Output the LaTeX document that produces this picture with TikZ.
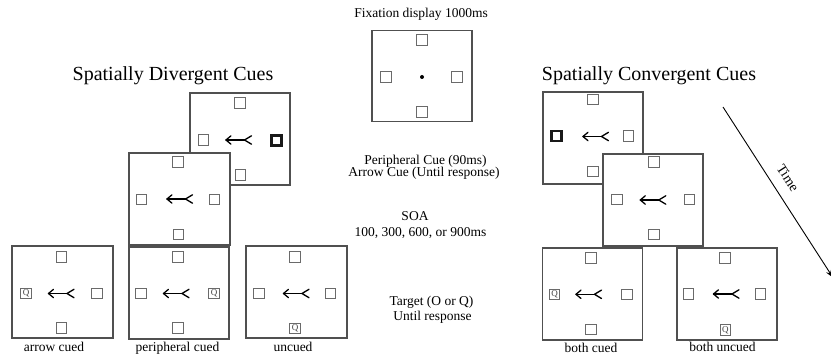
\documentclass[tikz,border=0pt]{standalone}
\usepackage{fontspec}
\setmainfont{Liberation Serif}
\usetikzlibrary{arrows.meta}
\definecolor{framec}{HTML}{505050}
\definecolor{sqc}{HTML}{6A6A6A}
\tikzset{
  panel/.style={draw=framec, line width=1.2pt, fill=white, minimum width=100pt, minimum height=92pt, inner sep=0pt, outer sep=0pt},
  sq/.style={draw=sqc, line width=0.9pt, fill=white, minimum size=10.5pt, inner sep=0pt},
  thicksq/.style={draw=black!90, line width=2.5pt, minimum size=10pt, inner sep=0pt},
  qsq/.style={sq, font=\fontsize{9}{9}\selectfont, text=black!75},
  fixdot/.style={circle, fill=black, minimum size=4pt, inner sep=0pt},
  txt/.style={font=\fontsize{13.5}{14}\selectfont, inner sep=0pt, anchor=base},
  ttl/.style={font=\fontsize{20}{22}\selectfont, inner sep=0pt, anchor=base},
  arrowstroke/.style={line width=1.3pt, line cap=round, line join=round},
  cuearrow/.pic={
    \draw[arrowstroke] (-13,0) -- (5.5,0);
    \draw[arrowstroke] (-8,-4.2) .. controls (-9.8,-1.4) .. (-13,0) .. controls (-9.8,1.4) .. (-8,4.2);
    \draw[arrowstroke] (12.5,-4.2) .. controls (9,-1.2) .. (5.5,0) .. controls (9,1.2) .. (12.5,4.2);
  }
}
\begin{document}
\begin{tikzpicture}[x=1pt,y=-1pt]
\useasboundingbox (0,0) rectangle (831,358);
\clip (0,0) rectangle (831,358);

% ---------- fixation display ----------
\node[txt] (fixtxt) at (421,17.5) {Fixation display 1000ms};
\node[panel, minimum width=100pt, minimum height=91pt] (F) at (422,76.4) {};
\node[sq] (Ft) at (422,40) {};
\node[sq] (Fl) at (386,77) {};
\node[sq] (Fr) at (457,77) {};
\node[sq] (Fb) at (422,112) {};
\node[fixdot] (Fd) at (422,77) {};

% ---------- centre texts ----------
\node[txt] (pc1) at (425.5,164.5) {Peripheral Cue (90ms)};
\node[txt] (pc2) at (424,177) {Arrow Cue (Until response)};
\node[txt] (soa1) at (415,221) {SOA};
\node[txt] (soa2) at (420.5,236.5) {100, 300, 600, or 900ms};
\node[txt] (tg1) at (431.5,305.5) {Target (O or Q)};
\node[txt] (tg2) at (432.5,320.5) {Until response};

% ---------- divergent ----------
\node[ttl] (dtitle) at (173,81) {Spatially Divergent Cues};

\node[panel] (D1) at (240,139) {};
\node[sq] (D1t) at (240,103) {};
\node[sq] (D1l) at (203.5,140) {};
\node[thicksq] (D1r) at (276.5,140.5) {};
\node[sq] (D1b) at (240.5,175) {};
\pic at (239,140) {cuearrow};

\node[panel, minimum width=101pt] (D2) at (179.5,199) {};
\node[sq] (D2t) at (178,162) {};
\node[sq] (D2l) at (141.5,199.5) {};
\node[sq] (D2r) at (214.5,199.5) {};
\node[sq] (D2b) at (178.5,234.5) {};
\pic at (180,199) {cuearrow};

\node[panel, minimum width=101pt] (B1) at (62.5,292) {};
\node[sq] (B1t) at (61.5,257) {};
\node[qsq] (B1l) at (26,293.5) {Q};
\node[sq] (B1r) at (97,293.5) {};
\node[sq] (B1b) at (61.5,328) {};
\pic at (61.5,293.5) {cuearrow};
\node[txt] (B1lab) at (54,351.5) {arrow cued};

\node[panel] (B2) at (179,293) {};
\node[sq] (B2t) at (178,257) {};
\node[sq] (B2l) at (141,293.5) {};
\node[qsq] (B2r) at (214,293.5) {Q};
\node[sq] (B2b) at (178,328) {};
\pic at (176.5,293.5) {cuearrow};
\node[txt] (B2lab) at (177.5,352) {peripheral cued};

\node[panel, minimum width=101pt] (B3) at (296.5,292) {};
\node[sq] (B3t) at (295,257) {};
\node[sq] (B3l) at (259,293.5) {};
\node[sq] (B3r) at (330.5,293.5) {};
\node[qsq] (B3b) at (295,328.5) {Q};
\pic at (296.5,293.5) {cuearrow};
\node[txt] (B3lab) at (293,352) {uncued};

% ---------- convergent ----------
\node[ttl] (ctitle) at (649,81) {Spatially Convergent Cues};

\node[panel] (C1) at (593,138) {};
\node[sq] (C1t) at (593,99.5) {};
\node[thicksq] (C1l) at (556.7,136) {};
\node[sq] (C1r) at (628.5,136) {};
\node[sq] (C1b) at (593,171.7) {};
\pic at (596,136.5) {cuearrow};

\node[panel] (C2) at (653,200) {};
\node[sq] (C2t) at (653.7,162) {};
\node[sq] (C2l) at (617,199.3) {};
\node[sq] (C2r) at (689.5,199.3) {};
\node[sq] (C2b) at (653.7,234.7) {};
\pic at (653.3,200) {cuearrow};

\node[panel] (C3) at (592.5,294) {};
\node[sq] (C3t) at (591,258) {};
\node[qsq] (C3l) at (554.5,294.5) {Q};
\node[sq] (C3r) at (626.7,294.5) {};
\node[sq] (C3b) at (591,329.7) {};
\pic at (589,294.3) {cuearrow};
\node[txt] (C3lab) at (591,353) {both cued};

\node[panel] (C4) at (727,294) {};
\node[sq] (C4t) at (725,258) {};
\node[sq] (C4l) at (688.3,294) {};
\node[sq] (C4r) at (760.5,294) {};
\node[qsq] (C4b) at (725.3,330) {Q};
\pic at (726.5,294) {cuearrow};
\node[txt] (C4lab) at (722.5,351.5) {both uncued};

% ---------- time arrow ----------
\coordinate (tstart) at (723,107);
\coordinate (tend) at (833,277.6);
\draw[line width=0.9pt, -{Stealth[length=8pt,width=6pt]}] (tstart) -- node[sloped, above=11pt, inner sep=0pt, pos=0.466, font=\fontsize{14}{15}\selectfont] (timelab) {Time} (tend);
\end{tikzpicture}
\end{document}
